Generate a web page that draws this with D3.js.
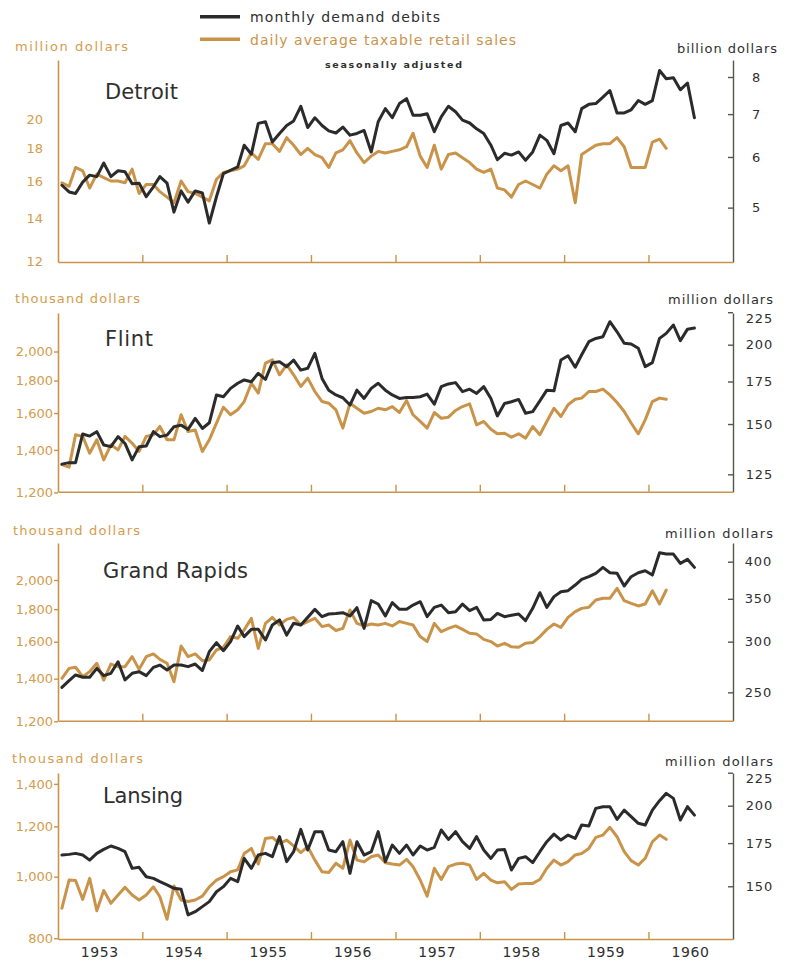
<!DOCTYPE html>
<html><head><meta charset="utf-8">
<script src="https://cdn.jsdelivr.net/npm/d3@7"></script>
<style>
html,body{margin:0;padding:0;background:#fff;}
svg{display:block;font-family:"DejaVu Sans",sans-serif;}
</style></head><body>
<svg id="chart" width="789" height="963"></svg>
<script>
// ---------------- DATA (monthly, starting January 1953) ----------------
const years = [1953,1954,1955,1956,1957,1958,1959,1960];
const legendLabels = ["monthly demand debits","daily average taxable retail sales"];
const noteLabel = "seasonally adjusted";
const cities = ["Detroit","Flint","Grand Rapids","Lansing"];
const leftUnits = ["million dollars","thousand dollars","thousand dollars","thousand dollars"];
const rightUnits = ["billion dollars","million dollars","million dollars","million dollars"];

// Detroit: debits in billion dollars, sales in million dollars
const detroitDebits = [5.42,5.29,5.26,5.48,5.62,5.59,5.87,5.59,5.71,5.69,5.45,5.46,5.20,5.39,5.59,5.46,4.92,5.31,5.10,5.31,5.27,4.73,5.20,5.65,5.72,5.79,6.26,6.06,6.77,6.81,6.33,6.53,6.72,6.83,7.20,6.67,6.91,6.72,6.59,6.54,6.68,6.49,6.53,6.60,6.11,6.81,7.14,6.91,
 7.27,7.40,6.97,6.97,7.01,6.57,6.93,7.20,7.06,6.85,6.78,6.64,6.53,6.26,5.94,6.08,6.04,6.11,5.93,6.11,6.49,6.37,6.07,6.72,6.78,6.57,7.14,7.25,7.27,7.44,7.62,7.03,7.03,7.11,7.35,7.25,7.35,8.19,7.95,7.98,7.64,7.83,6.91];
const detroitSales = [15.9,15.7,16.8,16.6,15.6,16.4,16.2,16.0,16.0,15.9,16.7,15.3,15.8,15.8,15.4,15.1,14.8,16.0,15.4,15.3,15.1,14.9,16.1,16.5,16.6,16.7,16.9,17.7,17.3,18.3,18.3,17.8,18.7,18.2,17.6,18.0,17.6,17.4,16.8,17.7,17.9,18.5,17.7,17.1,17.5,17.8,17.7,17.8,
 17.9,18.1,19.0,17.5,16.8,18.2,16.7,17.6,17.7,17.4,17.1,16.7,16.5,16.7,15.6,15.5,15.1,15.8,16.0,15.8,15.6,16.4,16.9,16.6,16.9,14.8,17.6,17.9,18.2,18.3,18.3,18.7,18.1,16.8,16.8,16.8,18.4,18.6,18.0];

// Flint: debits in million dollars, sales in thousand dollars
const flintDebits = [129.7,130.4,130.4,144.7,143.6,145.9,139.0,138.2,143.3,139.8,131.7,138.2,138.5,145.9,143.3,144.1,148.5,149.4,147.1,153.1,147.6,150.7,166.7,165.6,170.7,173.9,176.0,174.9,180.3,176.4,187.4,188.0,184.7,189.2,182.4,183.6,193.8,177.0,169.6,166.7,165.0,160.7,169.6,164.6,170.7,173.9,169.6,166.7,
 164.6,165.2,165.2,165.6,167.2,161.2,171.8,173.5,174.3,168.7,170.2,167.6,171.8,164.6,154.5,161.6,162.6,164.0,156.0,156.9,163.1,169.6,169.2,189.2,192.1,184.3,192.8,202.2,204.6,205.9,217.4,209.6,201.0,200.5,197.4,184.7,187.4,204.6,208.4,214.8,202.9,211.6,212.5];
const flintSales = [1327,1315,1479,1470,1383,1452,1350,1426,1400,1470,1434,1392,1470,1479,1524,1452,1452,1590,1496,1505,1392,1452,1543,1634,1590,1619,1668,1783,1720,1917,1940,1838,1906,1838,1762,1816,1730,1668,1658,1619,1515,1658,1628,1599,1609,1628,1619,1638,1603,
 1674,1590,1552,1515,1603,1570,1576,1615,1638,1654,1533,1552,1509,1484,1487,1466,1484,1461,1524,1479,1552,1628,1580,1649,1682,1689,1730,1730,1745,1709,1662,1609,1543,1484,1561,1668,1689,1682];

// Grand Rapids: debits in million dollars, sales in thousand dollars
const grandRapidsDebits = [254.5,260.8,266.1,263.9,263.9,272.5,265.5,267.7,279.1,261.4,267.7,269.3,265.5,273.5,275.8,271.0,275.8,275.8,274.2,276.8,270.4,289.4,298.9,290.4,300.0,317.4,305.5,313.6,313.6,301.8,318.6,324.4,307.2,320.6,318.6,327.4,337.0,328.2,331.4,332.1,333.0,329.0,339.0,314.7,347.7,343.5,329.0,345.2,
 337.0,337.0,342.2,346.4,328.2,339.4,342.2,333.0,334.1,343.5,335.4,339.4,324.4,325.0,332.1,328.2,330.0,331.4,323.6,338.3,357.8,339.4,352.8,359.1,360.4,367.8,375.4,379.0,383.6,391.9,384.5,383.6,366.5,379.0,384.5,387.2,381.2,413.1,411.1,411.1,397.6,403.4,391.9];
const grandRapidsSales = [1402,1453,1459,1410,1436,1480,1393,1476,1462,1462,1516,1448,1516,1531,1501,1480,1385,1575,1516,1531,1494,1498,1553,1568,1630,1620,1670,1741,1562,1710,1747,1700,1735,1747,1700,1721,1741,1690,1700,1666,1679,1794,1710,1694,1706,1700,1710,1694,
 1721,1710,1700,1630,1601,1710,1659,1679,1694,1673,1650,1646,1614,1601,1575,1591,1571,1568,1591,1595,1630,1673,1706,1685,1747,1784,1805,1812,1860,1872,1872,1941,1856,1838,1821,1834,1924,1834,1929];

// Lansing: debits in million dollars, sales in thousand dollars
const lansingDebits = [167.7,168.1,168.7,167.7,164.7,168.7,171.1,173.2,171.7,169.7,159.9,160.5,155.2,154.3,152.5,150.7,148.9,148.4,135.4,137.0,139.5,142.0,147.1,149.8,154.3,152.5,165.7,159.9,167.7,168.7,166.7,179.1,163.8,169.7,183.8,170.7,182.3,182.3,170.7,169.7,175.9,157.1,175.9,167.7,169.7,182.3,163.8,173.8,
 168.7,173.8,167.7,173.2,170.7,172.4,183.4,177.3,182.3,175.9,171.7,179.1,170.7,165.7,170.7,171.1,159.0,165.7,166.7,163.2,169.7,175.9,180.7,176.9,180.1,178.0,186.7,186.0,198.1,199.3,199.3,190.5,196.9,192.3,187.8,186.7,196.9,203.6,209.0,205.3,190.0,199.3,193.4];
const lansingSales = [892,988,986,921,994,884,951,908,936,962,936,919,936,964,930,857,967,919,914,919,932,964,988,1000,1018,1025,1088,1108,1047,1149,1153,1128,1142,1118,1091,1115,1062,1018,1015,1050,1031,1142,1062,1056,1075,1082,1052,1047,
 1043,1065,1037,988,932,1031,990,1037,1047,1050,1043,990,1012,988,978,982,955,974,976,976,990,1031,1062,1043,1056,1082,1088,1108,1153,1163,1196,1156,1095,1060,1043,1069,1135,1163,1145];

const leftTicks = [[12,14,16,18,20],[1200,1400,1600,1800,2000],[1200,1400,1600,1800,2000],[800,1000,1200,1400]];
const rightTicks = [[5,6,7,8],[125,150,175,200,225],[250,300,350,400],[150,175,200,225]];
const debitsSeries = [detroitDebits, flintDebits, grandRapidsDebits, lansingDebits];
const salesSeries = [detroitSales, flintSales, grandRapidsSales, lansingSales];

// ---------------- LAYOUT ----------------
const C = {black:"#2b2b2b", orange:"#C9944A", orangeText:"#D49C4C", rightAxis:"#55554d", text:"#2f2f2f"};
const xL = 58, xR = 733;
const layout = [
  {top:60, base:262, left:{ref:20,y:119,ppd:640}, right:{ref:8,y:77,ppd:640},
   title:{x:105,y:99,len:73}, lTick:0, lPad:15, rPad:28, topShift:0,
   lu:{x:15,y:51,len:113}, ru:{x:677,y:52.5,len:100}},
  {top:313, base:491.7, left:{ref:2000,y:351.5,ppd:635}, right:{ref:200,y:344.7,ppd:635},
   title:{x:105,y:346,len:48}, lTick:4, lPad:1, rPad:40, topShift:6,
   lu:{x:15,y:302.5,len:125}, ru:{x:668,y:304,len:105}},
  {top:543, base:720.7, left:{ref:2000,y:580,ppd:637}, right:{ref:400,y:561.7,ppd:640},
   title:{x:103,y:578,len:145}, lTick:4, lPad:1, rPad:39, topShift:0,
   lu:{x:13,y:535,len:127}, ru:{x:665,y:538,len:108}},
  {top:773, base:939, left:{ref:1000,y:876.7,ppd:635}, right:{ref:200,y:805.7,ppd:645},
   title:{x:103,y:802.5,len:80}, lTick:4, lPad:1, rPad:40, topShift:6,
   lu:{x:12,y:763,len:131}, ru:{x:665,y:765.5,len:108}}
];

const svg = d3.select("#chart");
const x = d3.scaleTime().domain([new Date(1953,0,1), new Date(1961,0,1)]).range([xL, xR]);
const monthDate = i => new Date(1953, i, 18);

function logScale(cfg, base, top){
  const lo = cfg.ref * Math.pow(10, -(base - cfg.y)/cfg.ppd);
  const hi = cfg.ref * Math.pow(10, (cfg.y - top)/cfg.ppd);
  return d3.scaleLog().domain([lo, hi]).range([base, top]);
}

// Legend
const legend = svg.append("g");
[[legendLabels[0], C.black, C.text, 16.7, 21.5, 190],[legendLabels[1], C.orange, C.orange, 39.3, 44.5, 266]].forEach(([t, lc, tc, ly, ty, len]) => {
  legend.append("line").attr("x1",200).attr("x2",240).attr("y1",ly).attr("y2",ly)
    .attr("stroke",lc).attr("stroke-width",3.5);
  legend.append("text").attr("x",250).attr("y",ty).attr("fill",tc)
    .attr("font-size",14).attr("textLength",len).attr("lengthAdjust","spacing").text(t);
});
legend.append("text").attr("x",325).attr("y",68).attr("fill",C.text).attr("font-size",9.5)
  .attr("font-weight","bold").attr("textLength",137).attr("lengthAdjust","spacing").text(noteLabel);

cities.forEach((city, k) => {
  const L = layout[k];
  const yl = logScale(L.left, L.base, L.top);
  const yr = logScale(L.right, L.base, L.top);
  const g = svg.append("g");

  // left axis
  const la = g.append("g").attr("transform",`translate(${xL},0)`)
    .call(d3.axisLeft(yl).tickValues(leftTicks[k]).tickSize(L.lTick).tickSizeOuter(0)
      .tickPadding(L.lPad).tickFormat(d3.format(",")));
  la.select(".domain").attr("stroke",C.orange).attr("stroke-width",1.6);
  la.selectAll(".tick line").attr("stroke",C.orange).attr("stroke-width",1.4);
  la.selectAll(".tick text").attr("fill",C.orangeText).attr("font-size",13)
    .attr("font-family","DejaVu Sans");

  // right axis (ticks point inward)
  const topVal = d3.max(rightTicks[k]);
  const ra = g.append("g").attr("transform",`translate(${xR},0)`)
    .call(d3.axisRight(yr).tickValues(rightTicks[k]).tickSize(-5).tickSizeOuter(0)
      .tickPadding(L.rPad).tickFormat(d3.format(",")));
  ra.select(".domain").attr("stroke",C.rightAxis).attr("stroke-width",1.4);
  ra.selectAll(".tick line").attr("stroke",C.rightAxis).attr("stroke-width",1.4);
  ra.selectAll(".tick text").attr("fill",C.text).attr("font-size",13)
    .attr("text-anchor","end").attr("letter-spacing",0.8).attr("font-family","DejaVu Sans")
    .attr("y", d => d === topVal ? L.topShift : 0);

  // bottom axis (year boundaries, ticks upward)
  const ba = g.append("g").attr("transform",`translate(0,${L.base})`)
    .call(d3.axisBottom(x).tickValues(years.slice(1).map(y => new Date(y,0,1)))
      .tickSize(-7).tickSizeOuter(0).tickFormat(""));
  ba.select(".domain").attr("stroke",C.orange).attr("stroke-width",1.6);
  ba.selectAll(".tick line").attr("stroke",C.orange).attr("stroke-width",1.4);

  // unit labels
  g.append("text").attr("x",L.lu.x).attr("y",L.lu.y).attr("fill",C.orangeText).attr("font-size",13)
    .attr("textLength",L.lu.len).attr("lengthAdjust","spacing").text(leftUnits[k]);
  g.append("text").attr("x",L.ru.x).attr("y",L.ru.y).attr("fill",C.text).attr("font-size",13)
    .attr("textLength",L.ru.len).attr("lengthAdjust","spacing").text(rightUnits[k]);

  // city title
  g.append("text").attr("x",L.title.x).attr("y",L.title.y).attr("fill",C.text).attr("font-size",21)
    .attr("textLength",L.title.len).attr("lengthAdjust","spacing").text(city);

  // series
  const sales = salesSeries[k].map((v,i) => ({date:monthDate(i), v}));
  const debits = debitsSeries[k].map((v,i) => ({date:monthDate(i), v}));
  g.append("path").datum(sales).attr("fill","none").attr("stroke",C.orange).attr("stroke-width",3)
    .attr("stroke-linejoin","round").attr("stroke-linecap","round")
    .attr("d", d3.line().x(d => x(d.date)).y(d => yl(d.v)));
  g.append("path").datum(debits).attr("fill","none").attr("stroke",C.black).attr("stroke-width",3)
    .attr("stroke-linejoin","round").attr("stroke-linecap","round")
    .attr("d", d3.line().x(d => x(d.date)).y(d => yr(d.v)));

  // year labels under the last panel
  if (k === cities.length - 1) {
    g.selectAll(".yr").data(years).join("text")
      .attr("x", y => x(new Date(y,6,1))).attr("y", 957).attr("text-anchor","middle")
      .attr("fill",C.text).attr("font-size",14).attr("letter-spacing",0.6).text(y => y);
  }
});
</script>
</body></html>
